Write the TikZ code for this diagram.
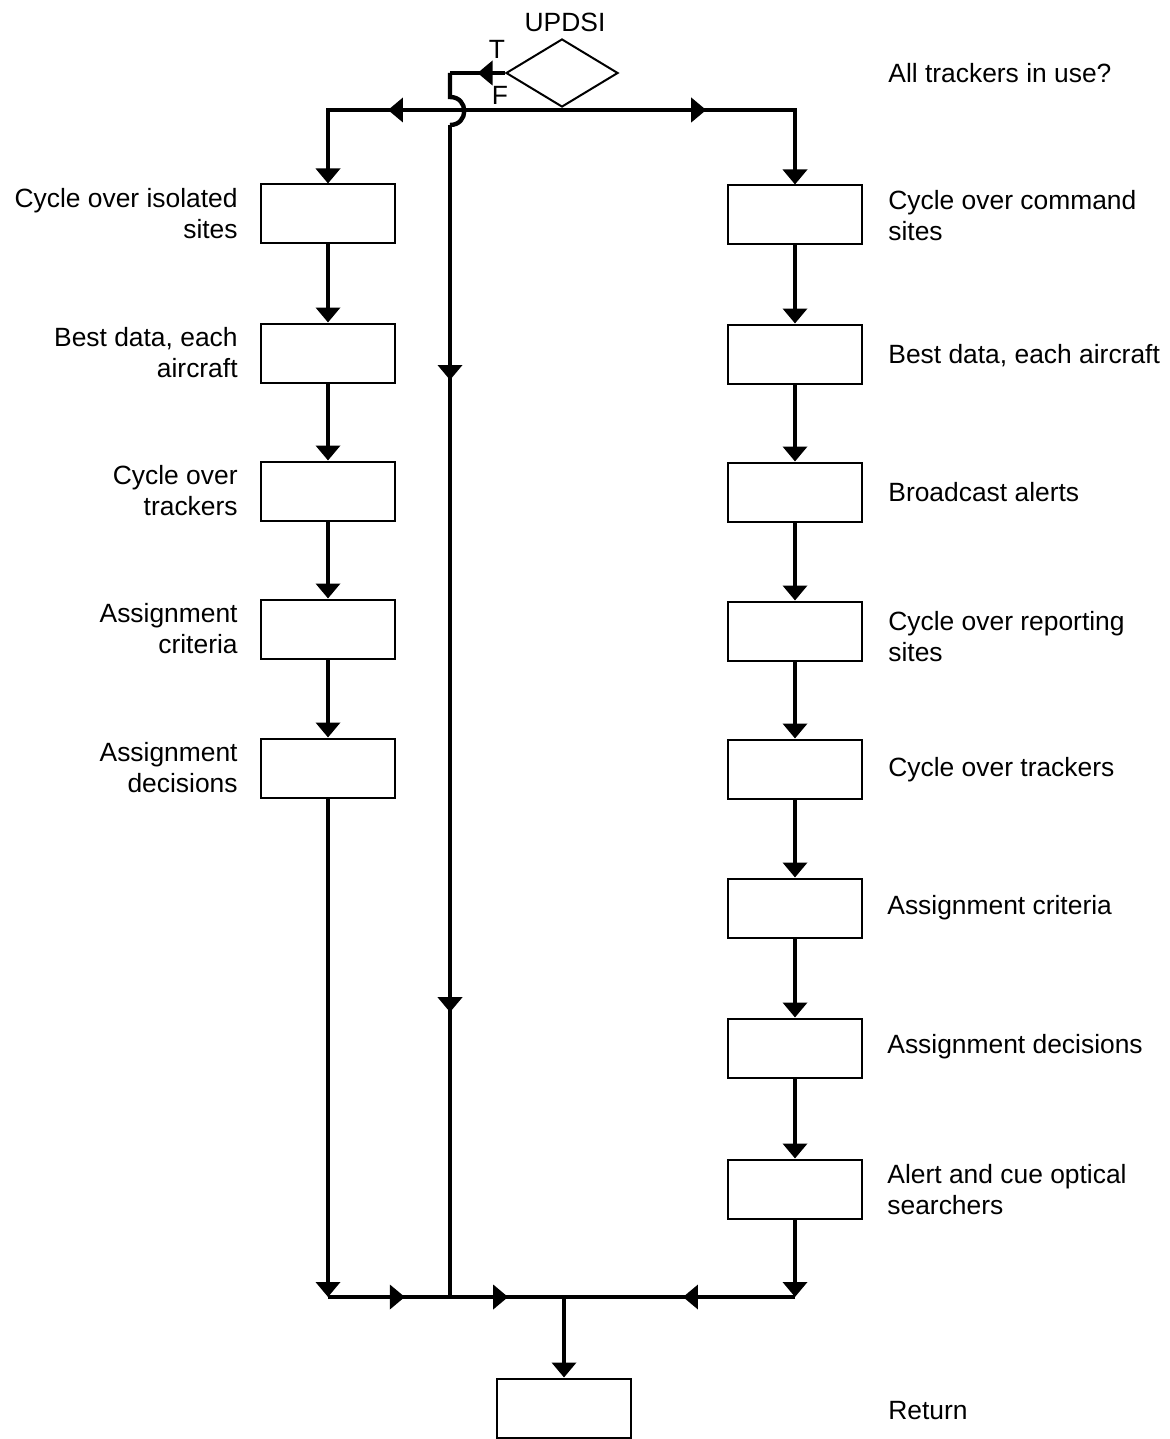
\documentclass[tikz,border=0pt]{standalone}
\usepackage{fontspec}
\setmainfont{Liberation Sans}
\usetikzlibrary{arrows.meta,shapes.geometric,decorations.markings}
\begin{document}
\begin{tikzpicture}[x=0.5pt,y=-0.5pt,
  flow/.style={line width=2.2pt},
  tip/.style={-{Triangle[length=7.5pt,width=12pt]}},
  stepbox/.style={draw,line width=1pt,minimum width=67pt,minimum height=29.5pt,inner sep=0pt},
  lbl/.style={font=\fontsize{13.2}{15.5}\selectfont,inner sep=0pt},
  lleft/.style={lbl,anchor=east,align=right},
  lright/.style={lbl,anchor=west,align=left},
  midarrow/.style={postaction={decorate},decoration={markings,
    mark=at position #1 with {\arrow{Triangle[length=7.5pt,width=12pt]}}}},
  twoarrows/.style 2 args={postaction={decorate},decoration={markings,
    mark=at position #1 with {\arrow{Triangle[length=7.5pt,width=12pt]}},
    mark=at position #2 with {\arrow{Triangle[length=7.5pt,width=12pt]}}}},
]
\fill[white] (0,0) rectangle (1170,1439);
\useasboundingbox (0,0) rectangle (1170,1439);

% decision
\node[draw,line width=1pt,diamond,minimum width=56pt,minimum height=34pt,inner sep=0pt] (dec) at (562,73) {};
\node[lbl] (decname) at (565,22) {UPDSI};
\node[lbl] (tlab) at (497,49) {T};
\node[lbl] (flab) at (500,95) {F};
\node[lright] (q) at (888,73) {All trackers in use?};

% left column
\node[stepbox] (L1) at (328,214) {};
\node[stepbox] (L2) at (328,353) {};
\node[stepbox] (L3) at (328,491) {};
\node[stepbox] (L4) at (328,629) {};
\node[stepbox] (L5) at (328,768) {};
\node[lleft] (tL1) at (238,214) {Cycle over isolated\\sites};
\node[lleft] (tL2) at (238,353) {Best data, each\\aircraft};
\node[lleft] (tL3) at (238,491) {Cycle over\\trackers};
\node[lleft] (tL4) at (238,629) {Assignment\\criteria};
\node[lleft] (tL5) at (238,768) {Assignment\\decisions};

% right column
\node[stepbox] (R1) at (795,215) {};
\node[stepbox] (R2) at (795,354) {};
\node[stepbox] (R3) at (795,492) {};
\node[stepbox] (R4) at (795,631) {};
\node[stepbox] (R5) at (795,769) {};
\node[stepbox] (R6) at (795,908) {};
\node[stepbox] (R7) at (795,1048) {};
\node[stepbox] (R8) at (795,1189) {};
\node[lright] (tR1) at (888,216) {Cycle over command\\sites};
\node[lright] (tR2) at (888,356) {Best data, each aircraft};
\node[lright] (tR3) at (888,492) {Broadcast alerts};
\node[lright] (tR4) at (888,637) {Cycle over reporting\\sites};
\node[lright] (tR5) at (888,770) {Cycle over trackers};
\node[lright] (tR6) at (887,908) {Assignment criteria};
\node[lright] (tR7) at (887,1047) {Assignment decisions};
\node[lright] (tR8) at (887,1190) {Alert and cue optical\\searchers};

% return
\node[stepbox] (ret) at (564,1408) {};
\node[lright] (tret) at (888,1411) {Return};

% junction points
\coordinate (fj) at (562,110);
\coordinate (fl) at (328,110);
\coordinate (fr) at (795,110);
\coordinate (tc) at (450,73);
\coordinate (jt) at (450,97);
\coordinate (jb) at (450,125);
\coordinate (bl) at (328,1297);
\coordinate (bm) at (450,1297);
\coordinate (bj) at (564,1297);
\coordinate (br) at (795,1297);

% true branch, jumping over the false line
\draw[flow,midarrow=0.5] (dec.west) -- (tc);
\draw[flow] (tc) -- (jt) .. controls (469,97) and (469,125) .. (jb);
\draw[flow,twoarrows={0.2176}{0.757}] (jb) -- (bm);

% false branch
\draw[flow] (dec.south) -- (fj);
\draw[flow,tip,midarrow=0.566] (fj) -- (fl) -- (L1.north);
\draw[flow,tip,midarrow=0.469] (fj) -- (fr) -- (R1.north);

% left chain
\draw[flow,tip] (L1) -- (L2);
\draw[flow,tip] (L2) -- (L3);
\draw[flow,tip] (L3) -- (L4);
\draw[flow,tip] (L4) -- (L5);
\draw[flow,tip] (L5) -- (bl);

% right chain
\draw[flow,tip] (R1) -- (R2);
\draw[flow,tip] (R2) -- (R3);
\draw[flow,tip] (R3) -- (R4);
\draw[flow,tip] (R4) -- (R5);
\draw[flow,tip] (R5) -- (R6);
\draw[flow,tip] (R6) -- (R7);
\draw[flow,tip] (R7) -- (R8);
\draw[flow,tip] (R8) -- (br);

% merge and return
\draw[flow,midarrow=0.63] (bl) -- (bm);
\draw[flow,midarrow=0.51] (bm) -- (bj);
\draw[flow,midarrow=0.485] (br) -- (bj);
\draw[flow,tip] (bj) -- (ret.north);
\end{tikzpicture}
\end{document}
